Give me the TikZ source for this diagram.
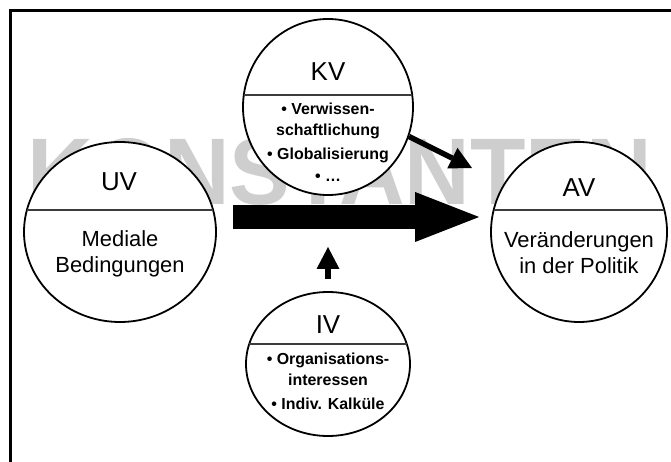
\documentclass[tikz,border=0pt]{standalone}
\usepackage{fontspec}
\setmainfont{Liberation Sans}
\usetikzlibrary{arrows.meta,shapes.geometric}
\tikzset{>=latex}
\definecolor{backColour}{RGB}{255,255,255}
\definecolor{constColour}{RGB}{206,206,206}
\definecolor{dividerColour}{RGB}{60,60,60}
\tikzset{
	varEllipse/.style={draw, ellipse, fill=backColour, line width=1.8bp, inner sep=0pt},
	varName/.style={font=\fontsize{26}{26}\selectfont},
	varText/.style={font=\fontsize{22}{26}\selectfont, align=center},
	listText/.style={font=\bfseries\fontsize{16}{21}\selectfont, align=center},
	dividerLine/.style={draw=dividerColour, line width=1.3bp},
	bigArrow/.style={line width=24bp, -{Triangle[length=64bp,width=50bp,line width=0pt]}},
	smallArrow/.style={line width=5.5bp, -{Triangle[length=22bp,width=23bp,line width=0pt]}}
}

\begin{document}
\begin{tikzpicture}[x=1bp, y=-1bp]
		\useasboundingbox (0, 0) rectangle (671, 462);

		% the frame
		\draw[line width=3bp] (671, 10.5) -- (10.5, 10.5) -- (10.5, 462);

		% the constants in the background
		\node[anchor=base, text=constColour, xscale=0.96, font=\bfseries\fontsize{95}{95}\selectfont] (konst) at (340, 205) {KONSTANTEN};

		% the four variables
		\node[varEllipse, minimum width=192bp, minimum height=180bp] (uv) at (120, 232) {};
		\node[varEllipse, minimum width=176bp, minimum height=180bp] (av) at (579, 232) {};
		\node[varEllipse, minimum width=170bp, minimum height=176bp] (kv) at (328, 107) {};
		\node[varEllipse, minimum width=164bp, minimum height=144bp] (iv) at (328, 364) {};

		% dividers
		\draw[dividerLine] (27, 210) -- (213, 210);
		\draw[dividerLine] (494, 210) -- (664, 210);
		\draw[dividerLine] (244, 95) -- (412, 95);
		\draw[dividerLine] (249, 344) -- (407, 344);

		% names and contents
		\node[varName] (uvName) at (119, 182) {UV};
		\node[varText] (uvText) at (120, 254) {Mediale\\Bedingungen};
		\node[varName] (avName) at (579, 188) {AV};
		\node[varText] (avText) at (579, 253) {Veränderungen\\in der Politik};
		\node[varName] (kvName) at (328, 72) {KV};
		\node[listText] (kvText) at (328, 142) {• Verwissen-\\schaftlichung\\[3bp]• Globalisierung\\[1bp]• …};
		\node[varName] (ivName) at (328, 325) {IV};
		\node[listText] (ivText) at (328, 381) {• Organisations-\\interessen\\[3bp]• Indiv. Kalküle};

		% effects
		\coordinate (kvTip) at (472, 168);
		\coordinate (ivTip) at (328, 247);
		\draw[bigArrow, shorten <=16bp, shorten >=11bp] ([yshift=15bp]uv.east) -- ([yshift=15bp]av.west);
		\draw[smallArrow] (kv.-20) -- (kvTip);
		\draw[smallArrow, shorten <=12bp] (iv.north) -- (ivTip);
	\end{tikzpicture}
\end{document}
